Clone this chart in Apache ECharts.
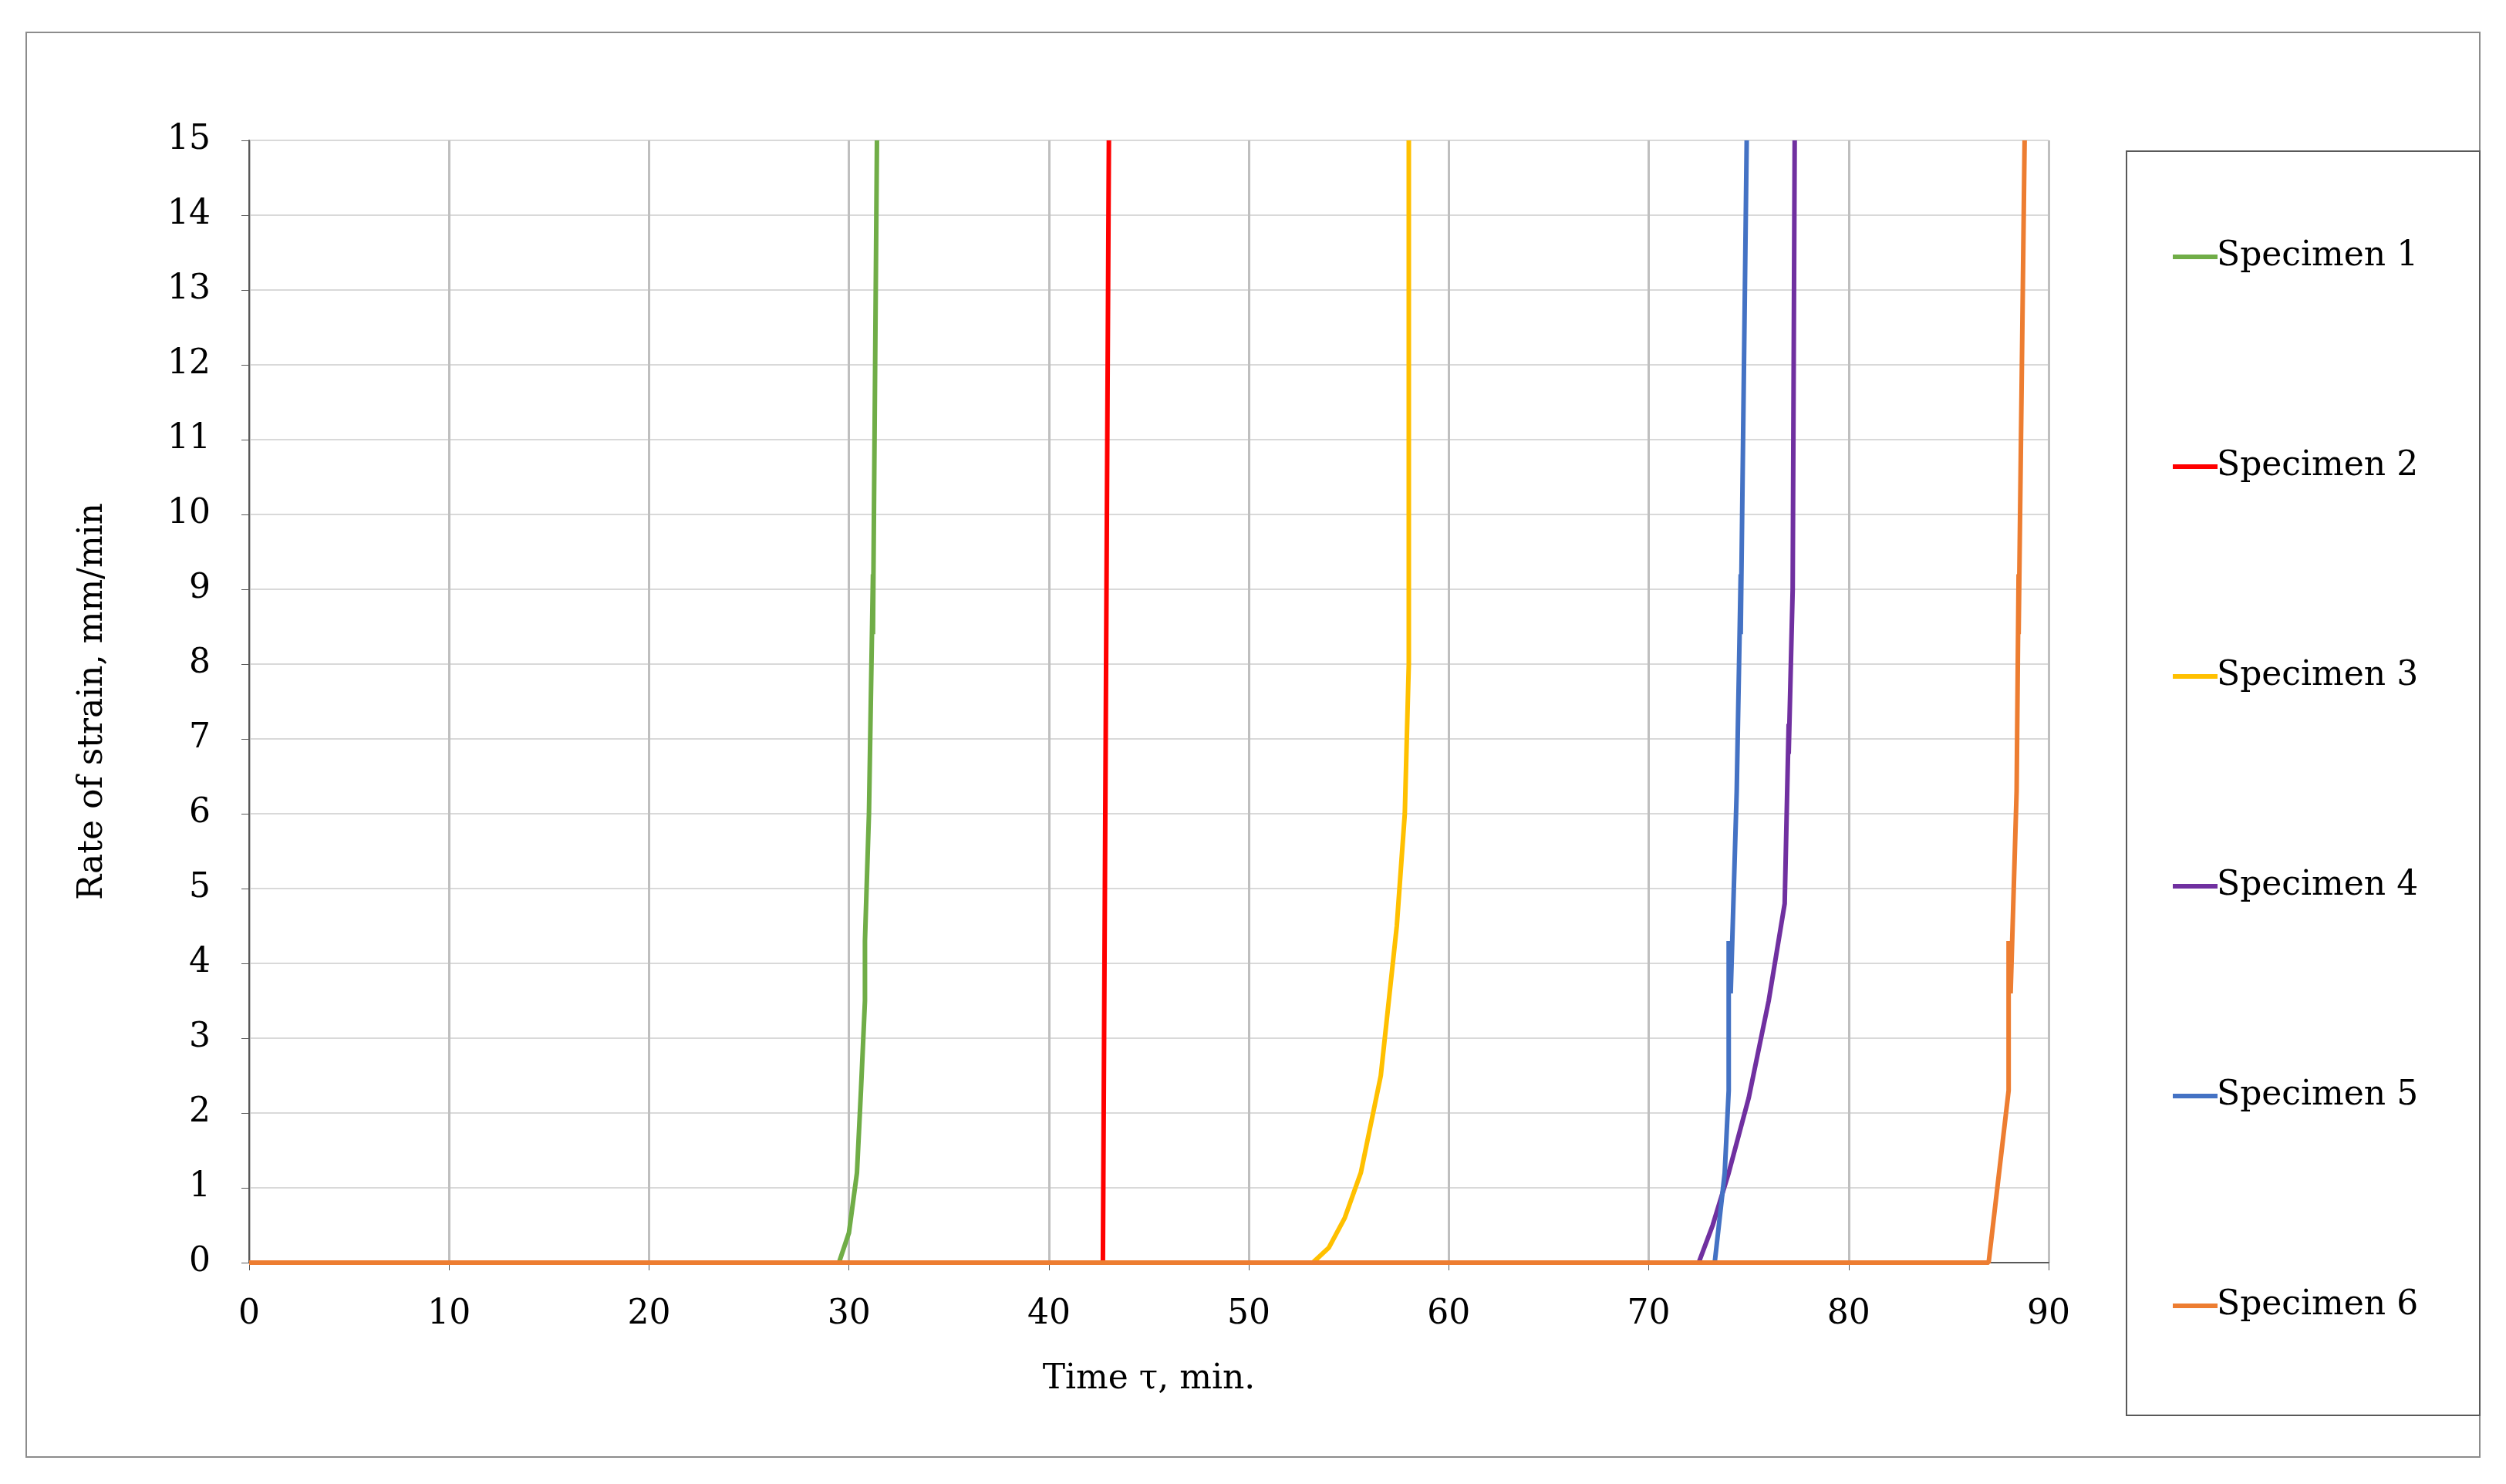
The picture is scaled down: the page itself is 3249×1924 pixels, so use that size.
<!DOCTYPE html>
<html><head><meta charset="utf-8">
<script src="https://cdn.jsdelivr.net/npm/echarts@6/dist/echarts.min.js"></script>
<style>html,body{margin:0;background:#fff}#main{width:3249px;height:1924px}
#frame{position:absolute;left:33px;top:41px;width:3183px;height:1849px;border:2px solid #8c8c8c;box-sizing:border-box;pointer-events:none}
#lbox{position:absolute;left:2756px;top:195px;width:460px;height:1641px;border:2px solid #595959;box-sizing:border-box;pointer-events:none}</style>
</head><body><div id="main"></div><div id="frame"></div><div id="lbox"></div>
<script>
var names = ['Specimen 1','Specimen 2','Specimen 3','Specimen 4','Specimen 5','Specimen 6'];
var colors = ['#70AD47','#FF0000','#FFC000','#7030A0','#4472C4','#ED7D31'];
var s1 = [[0,0],[29.5,0],[30,0.4],[30.4,1.2],[30.6,2.3],[30.8,3.5],[30.8,4.3],[31,6],[31.2,9.2],[31.2,8.4],[31.4,15]];
var s2 = [[0,0],[42.7,0],[43,15]];
var s3 = [[0,0],[53.2,0],[54,0.2],[54.8,0.6],[55.6,1.2],[56.6,2.5],[57.4,4.5],[57.8,6],[58,8],[58,15]];
var s4 = [[0,0],[72.5,0],[73.2,0.5],[74,1.2],[75,2.2],[76,3.5],[76.8,4.8],[77,7.2],[77,6.8],[77.2,9],[77.3,15]];
var s5 = [[0,0],[73.3,0],[73.8,1.2],[74,2.3],[74,4.3],[74.1,3.6],[74.4,6.3],[74.6,9.2],[74.6,8.4],[74.9,15]];
var s6 = [[0,0],[87,0],[88,2.3],[88,4.3],[88.1,3.6],[88.4,6.3],[88.5,9.2],[88.5,8.4],[88.8,15]];
var data = [s1,s2,s3,s4,s5,s6];
var font = 'DejaVu Serif';
var chart = echarts.init(document.getElementById('main'));
chart.setOption({
  backgroundColor:'#fff',
  animation:false,
  grid:{left:323,right:593,top:182,bottom:287},
  legend:{orient:'vertical',left:2812,top:306,itemGap:228,itemWidth:58,itemHeight:6,icon:'rect',
    data:names,textStyle:{fontFamily:font,fontSize:44,color:'#000',padding:[0,0,0,-6]}},
  xAxis:{type:'value',min:0,max:90,interval:10,name:'Time τ, min.',nameLocation:'middle',nameGap:130,
    nameTextStyle:{fontFamily:font,fontSize:44,color:'#000'},
    axisLine:{onZero:false,lineStyle:{color:'#595959',width:2}},axisTick:{show:true,length:10,lineStyle:{color:'#595959'}},
    axisLabel:{fontFamily:font,fontSize:44,color:'#000',margin:46},
    splitLine:{lineStyle:{color:'#bfbfbf',width:3}}},
  yAxis:{type:'value',min:0,max:15,interval:1,name:'Rate of strain, mm/min',nameLocation:'middle',nameGap:180,
    nameTextStyle:{fontFamily:font,fontSize:44,color:'#000'},
    axisLine:{show:true,lineStyle:{color:'#595959',width:2}},axisTick:{show:true,length:10,lineStyle:{color:'#595959'}},
    axisLabel:{fontFamily:font,fontSize:44,color:'#000',margin:50},
    splitLine:{lineStyle:{color:'#d9d9d9',width:2}}},
  series:names.map(function(n,i){return {name:n,type:'line',data:data[i],showSymbol:false,
    color:colors[i],lineStyle:{width:6,color:colors[i]}};})
});
</script></body></html>
